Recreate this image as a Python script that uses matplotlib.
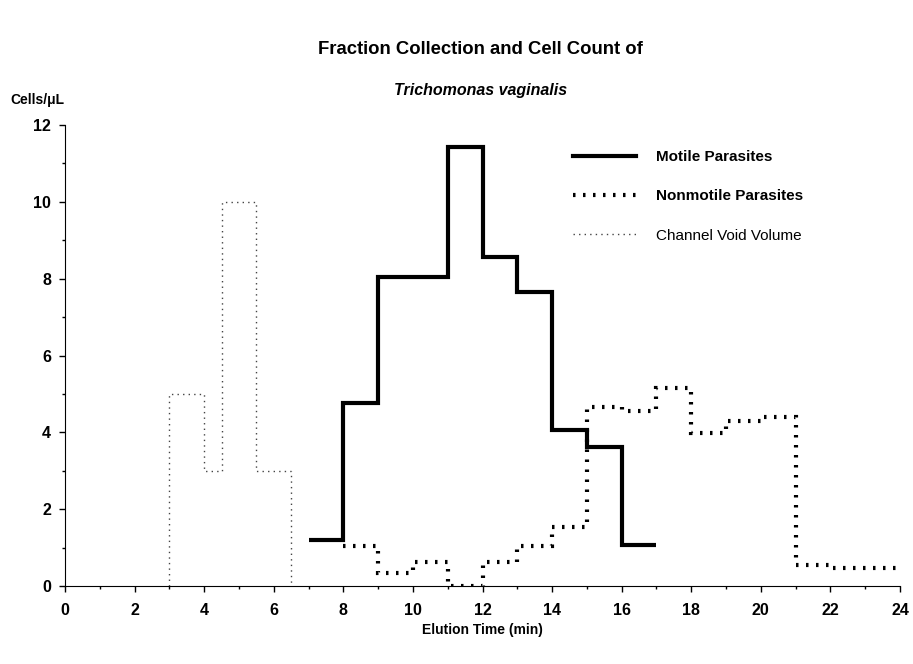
import matplotlib
matplotlib.use("Agg")
import matplotlib.pyplot as plt
from matplotlib.ticker import MultipleLocator

# Data
motile_edges = [7, 8, 9, 10, 11, 12, 13, 14, 15, 16, 17]
motile_vals = [1.2, 4.77, 8.05, 8.05, 11.43, 8.57, 7.66, 4.06, 3.62, 1.07]
nonmotile_edges = [8, 9, 10, 11, 12, 13, 14, 15, 16, 17, 18, 19, 20, 21, 22, 24]
nonmotile_vals = [1.04, 0.35, 0.62, 0.0, 0.62, 1.04, 1.54, 4.66, 4.55, 5.15, 3.98, 4.3, 4.4, 0.55, 0.46]
void_edges = [3, 4, 4.5, 5.5, 6.5]
void_vals = [5, 3, 10, 3]
x_ticks = list(range(0, 25, 2))
y_ticks = list(range(0, 13, 2))

plt.rcParams['font.family'] = ['Liberation Sans', 'DejaVu Sans']

fig = plt.figure(figsize=(9.13, 6.64), dpi=100)
ax = fig.add_axes([65/913, 1-586/664, (900-65)/913, (586-125)/664])

ax.stairs(motile_vals, motile_edges, baseline=None, color='black', lw=3,
          label='Motile Parasites')
ax.stairs(nonmotile_vals, nonmotile_edges, baseline=None, color='black', lw=3,
          linestyle=(0, (0.6, 1.8)), label='Nonmotile Parasites')
ax.stairs(void_vals, void_edges, baseline=0, color='#444444', lw=1,
          linestyle=(0, (1, 3)), label='Channel Void Volume')

ax.set_xlim(0, 24)
ax.set_ylim(0, 12)
ax.set_xticks(x_ticks)
ax.set_yticks(y_ticks)
ax.xaxis.set_minor_locator(MultipleLocator(1))
ax.yaxis.set_minor_locator(MultipleLocator(1))
ax.tick_params(axis='both', which='major', labelsize=11.5, length=4, width=1)
ax.tick_params(axis='x', which='major', pad=8)
ax.tick_params(axis='y', which='major', pad=6)
ax.tick_params(axis='both', which='minor', length=2, width=1)
for lab in ax.get_xticklabels() + ax.get_yticklabels():
    lab.set_fontweight('bold')
ax.spines['top'].set_visible(False)
ax.spines['right'].set_visible(False)

leg = ax.legend(loc='upper left', bbox_to_anchor=(0.592, 0.975), frameon=False,
                handlelength=4.1, handletextpad=1.3, labelspacing=1.65, fontsize=11)
texts = leg.get_texts()
texts[0].set_fontweight('bold')
texts[1].set_fontweight('bold')

fig.text(480/913, 1-50/664, 'Fraction Collection and Cell Count of',
         ha='center', va='center', fontsize=13.3, fontweight='bold')
fig.text(481/913, 1-91/664, 'Trichomonas vaginalis',
         ha='center', va='center', fontsize=11.5, fontweight='bold', style='italic')
fig.text(10/913, 1-100/664, 'Cells/μL', ha='left', va='center',
         fontsize=10, fontweight='bold')
fig.text(482/913, 1-630/664, 'Elution Time (min)', ha='center', va='center',
         fontsize=10, fontweight='bold')

fig.savefig('out.png', dpi=100)
